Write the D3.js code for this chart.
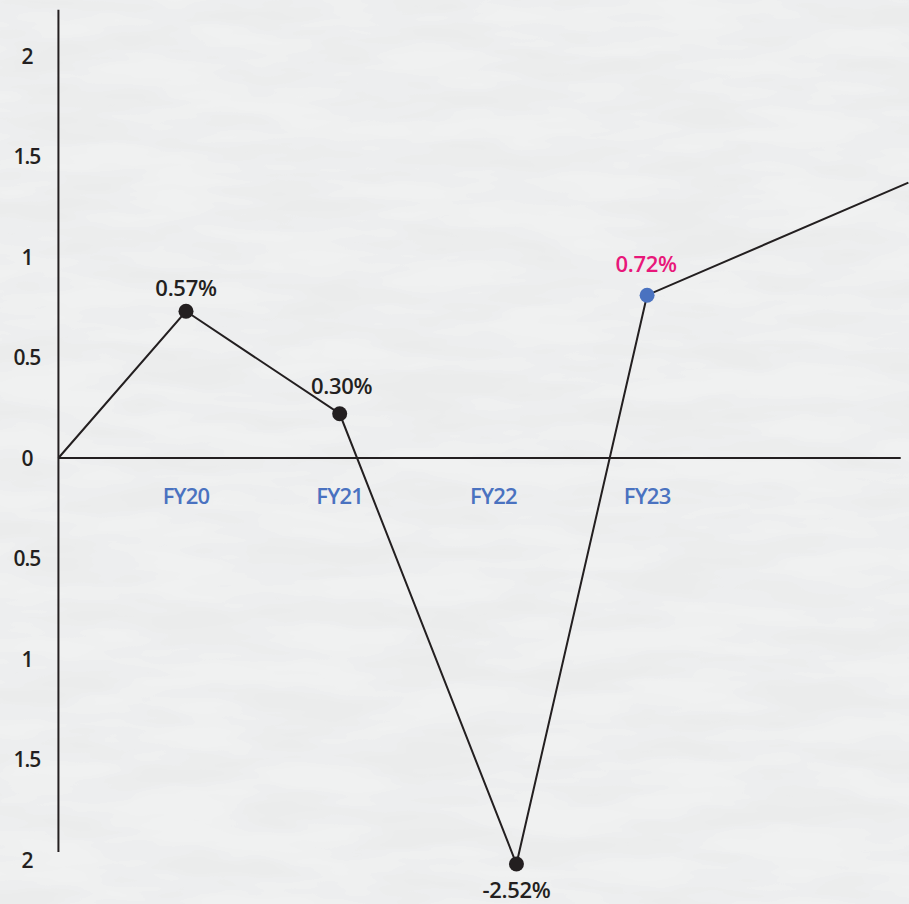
<!DOCTYPE html>
<html>
<head>
<meta charset="utf-8">
<script src="https://cdn.jsdelivr.net/npm/d3@7"></script>
<style>
  html, body { margin: 0; padding: 0; background: #ededed; }
  svg { display: block; }
</style>
</head>
<body>
<div id="chart"></div>
<script>
// Periods on the x axis
const periods = ["FY20", "FY21", "FY22", "FY23"];

// Plotted points (x in period units, y in axis units) and their labels
const pointPos = [0, 1, 2.15, 3];
const pointValues = [0.73, 0.22, -2.02, 0.81];
const pointLabels = ["0.57%", "0.30%", "-2.52%", "0.72%"];

// Line runs in from the origin and out past the right edge
const startPos = -0.83, startValue = 0;
const endPos = 4.7, endValue = 1.37;

// Y ticks (drawn without sign, as in the original)
const yTicks = [2, 1.5, 1, 0.5, 0, -0.5, -1, -1.5, -2];
const yTickLabels = ["2", "1.5", "1", "0.5", "0", "0.5", "1", "1.5", "2"];

const width = 909;
const height = 904;

const svg = d3.select("#chart")
    .append("svg")
    .attr("width", width)
    .attr("height", height)
    .attr("viewBox", [0, 0, width, height]);

// camo-ish paper texture
const defs = svg.append("defs");
const f = defs.append("filter")
    .attr("id", "camo")
    .attr("x", 0).attr("y", 0).attr("width", "100%").attr("height", "100%");
f.append("feTurbulence")
    .attr("type", "fractalNoise")
    .attr("baseFrequency", "0.008 0.035")
    .attr("numOctaves", 3)
    .attr("seed", 7);
f.append("feColorMatrix")
    .attr("type", "matrix")
    .attr("values", "0 0 0 0 0.80  0 0 0 0 0.80  0 0 0 0 0.81  1.6 0 0 0 -0.25");
f.append("feComponentTransfer")
    .append("feFuncA")
    .attr("type", "discrete")
    .attr("tableValues", "0 0 0.15 0.3 0.45 0.55");

svg.append("rect")
    .attr("width", width)
    .attr("height", height)
    .attr("fill", "#f0f1f1");
svg.append("rect")
    .attr("width", width)
    .attr("height", height)
    .attr("filter", "url(#camo)");

const x = d3.scaleLinear()
    .domain([0, 1])
    .range([186, 339.7]);

const y = d3.scaleLinear()
    .domain([2, -2])
    .range([56, 860]);

const ink = "#231f20";
const font = "'Open Sans', sans-serif";

// y axis line
svg.append("line")
    .attr("x1", x(startPos)).attr("x2", x(startPos))
    .attr("y1", y(2.23)).attr("y2", y(-1.96))
    .attr("stroke", ink)
    .attr("stroke-width", 2);

// zero line
svg.append("line")
    .attr("x1", x(startPos)).attr("x2", x(4.65))
    .attr("y1", y(0)).attr("y2", y(0))
    .attr("stroke", ink)
    .attr("stroke-width", 2);

// y tick labels
svg.append("g")
    .selectAll("text")
    .data(yTicks)
    .enter().append("text")
    .attr("x", 27)
    .attr("y", d => y(d))
    .attr("dy", "0.36em")
    .attr("text-anchor", "middle")
    .style("font-family", font)
    .style("font-size", "21px")
    .style("font-weight", 600)
    .style("letter-spacing", "-1px")
    .attr("fill", ink)
    .text((d, i) => yTickLabels[i]);

// x period labels
svg.append("g")
    .selectAll("text")
    .data(periods)
    .enter().append("text")
    .attr("x", (d, i) => x(i))
    .attr("y", y(0) + 46)
    .attr("text-anchor", "middle")
    .style("font-family", font)
    .style("font-size", "22px")
    .style("font-weight", 600)
    .style("letter-spacing", "-0.8px")
    .attr("fill", "#4a72c0")
    .text(d => d);

// line
const linePts = [[startPos, startValue]]
    .concat(pointPos.map((p, i) => [p, pointValues[i]]))
    .concat([[endPos, endValue]]);

svg.append("path")
    .datum(linePts)
    .attr("fill", "none")
    .attr("stroke", ink)
    .attr("stroke-width", 2)
    .attr("d", d3.line().x(d => x(d[0])).y(d => y(d[1])));

// dots
const dotColors = [ink, ink, ink, "#4a72c0"];
svg.append("g")
    .selectAll("circle")
    .data(pointValues)
    .enter().append("circle")
    .attr("cx", (d, i) => x(pointPos[i]))
    .attr("cy", d => y(d))
    .attr("r", 7.5)
    .attr("fill", (d, i) => dotColors[i]);

// value labels
const labelDy = [-15, -20, 34, -23];
const labelDx = [0, 2, 0, -1];
const labelColors = [ink, ink, ink, "#e8177a"];
svg.append("g")
    .selectAll("text")
    .data(pointLabels)
    .enter().append("text")
    .attr("x", (d, i) => x(pointPos[i]) + labelDx[i])
    .attr("y", (d, i) => y(pointValues[i]) + labelDy[i])
    .attr("text-anchor", "middle")
    .style("font-family", font)
    .style("font-size", "22px")
    .style("font-weight", 600)
    .style("letter-spacing", "-0.3px")
    .attr("fill", (d, i) => labelColors[i])
    .text(d => d);
</script>
</body>
</html>
